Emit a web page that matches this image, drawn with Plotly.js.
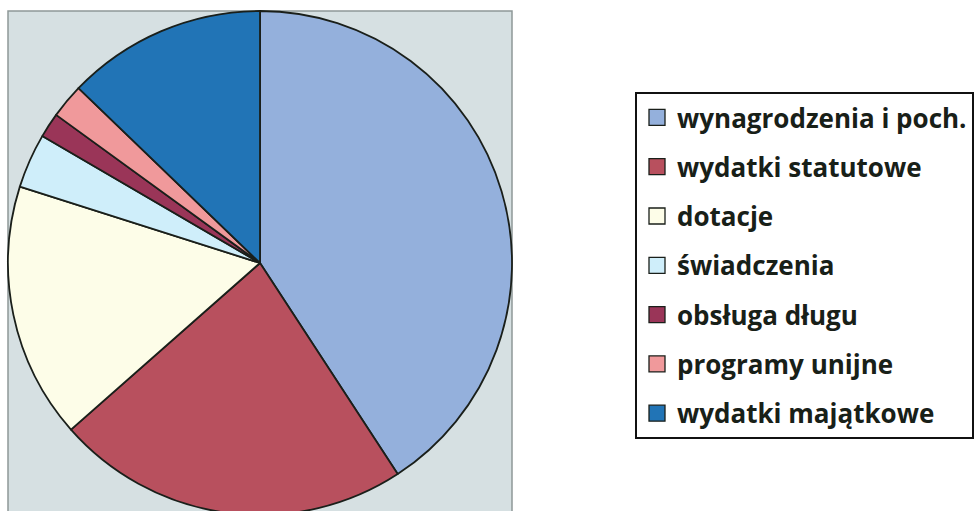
<!DOCTYPE html>
<html>
<head>
<meta charset="utf-8">
<script src="https://cdn.plot.ly/plotly-3.0.1.min.js"></script>
<style>
html, body { margin:0; padding:0; overflow:hidden; background:#ffffff; width:977px; height:511px; }
#chart { width:1100px; height:518px; }
</style>
</head>
<body>
<div id="chart"></div>
<script>
// Data
const categories = ["wynagrodzenia i poch.", "wydatki statutowe", "dotacje", "świadczenia", "obsługa długu", "programy unijne", "wydatki majątkowe"];
const shares = [40.8, 22.7, 16.4, 3.5, 1.6, 2.2, 12.8];
const colors = ["#94b0dc", "#b8505e", "#fdfde8", "#cfeefa", "#9a3558", "#f0999b", "#2174b6"];

const W = 1100, H = 518;
const px = v => v / W;
const py = v => 1 - v / H;

const pieTrace = {
  type: "pie",
  labels: categories,
  values: shares,
  sort: false,
  direction: "clockwise",
  rotation: 0,
  textinfo: "none",
  hoverinfo: "label+percent",
  showlegend: false,
  marker: { colors: colors, line: { color: "#1a1f1a", width: 1.8 } },
  domain: { x: [px(8), px(512)], y: [py(515), py(11)] }
};

// legend entries (one per category, same colours)
const legendTraces = categories.map((c, i) => ({
  type: "scatter",
  mode: "markers",
  x: [null], y: [null],
  name: c,
  legendgroup: "g" + i,
  showlegend: true,
  marker: { symbol: "square", size: 16, color: colors[i], line: { color: "#1a1f1a", width: 1.3 } },
  hoverinfo: "skip"
}));

const layout = {
  width: W, height: H,
  margin: { l: 0, r: 0, t: 0, b: 0 },
  paper_bgcolor: "#ffffff",
  plot_bgcolor: "rgba(0,0,0,0)",
  showlegend: true,
  hovermode: false,
  xaxis: { visible: false, domain: [0, 1] },
  yaxis: { visible: false, domain: [0, 1] },
  shapes: [{
    type: "rect", xref: "paper", yref: "paper", layer: "below",
    x0: px(8), x1: px(512), y0: 0, y1: py(11),
    fillcolor: "#d6e0e2", line: { color: "#8f9898", width: 1.5 }
  }],
  legend: {
    x: px(635), y: py(92), xanchor: "left", yanchor: "top",
    bgcolor: "#ffffff", bordercolor: "#111111", borderwidth: 2,
    tracegroupgap: 12.5,
    font: { family: "Open Sans, sans-serif", size: 26, color: "#182018", weight: "bold" }
  }
};

Plotly.newPlot("chart", [pieTrace, ...legendTraces], layout, { displayModeBar: false, staticPlot: true });
</script>
</body>
</html>
